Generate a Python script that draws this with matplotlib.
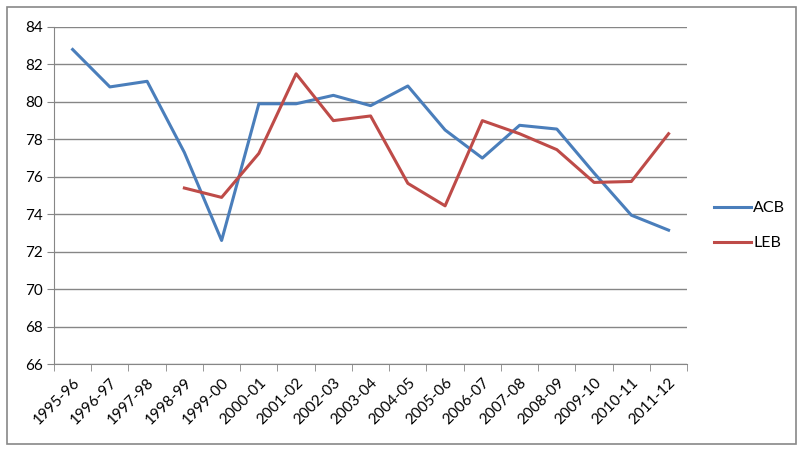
import numpy as np
import matplotlib.pyplot as plt
from matplotlib.patches import Rectangle

plt.rcParams['font.family'] = ['Lato', 'DejaVu Sans']

seasons = ['1995-96', '1996-97', '1997-98', '1998-99', '1999-00', '2000-01',
           '2001-02', '2002-03', '2003-04', '2004-05', '2005-06', '2006-07',
           '2007-08', '2008-09', '2009-10', '2010-11', '2011-12']
acb = [82.8, 80.8, 81.1, 77.3, 72.6, 79.9, 79.9, 80.35, 79.8, 80.85,
       78.5, 77.0, 78.75, 78.55, 76.2, 73.95, 73.15]
leb = [None, None, None, 75.4, 74.9, 77.25, 81.5, 79.0, 79.25, 75.65,
       74.45, 79.0, 78.3, 77.45, 75.7, 75.75, 78.3]

x = np.arange(len(seasons))
leb_arr = np.array([np.nan if v is None else v for v in leb])

fig = plt.figure(figsize=(8, 4.5), dpi=100)
ax = fig.add_axes([0.0675, 0.191, 0.7915, 0.749])

ax.plot(x, acb, color='#4A7EBB', lw=2.2, label='ACB')
ax.plot(x, leb_arr, color='#BE4B48', lw=2.2, label='LEB')

ax.set_ylim(66, 84)
ax.set_yticks(range(66, 85, 2))
ax.set_xlim(-0.5, len(seasons) - 0.5)
ax.set_xticks(x)
ax.set_xticklabels(seasons, rotation=45, ha='right', rotation_mode='anchor')
ax.set_xticks(np.arange(-0.5, len(seasons)), minor=True)
ax.tick_params(axis='x', which='major', length=0, pad=8, labelsize=11)
ax.tick_params(axis='x', which='minor', length=5, color='#868686')
ax.tick_params(axis='y', length=5, color='#868686', labelsize=11, pad=3)

ax.grid(axis='y', color='#868686', lw=1)
ax.set_axisbelow(True)
for s in ['top', 'right']:
    ax.spines[s].set_visible(False)
for s in ['left', 'bottom']:
    ax.spines[s].set_color('#868686')

ax.legend(loc='center left', bbox_to_anchor=(1.02, 0.41), frameon=False,
          fontsize=11.5, handlelength=2.3, handletextpad=0.15, labelspacing=1.3)

fig.patches.append(Rectangle((7 / 800, 6 / 450), 789 / 800, 437 / 450,
                             transform=fig.transFigure, fill=False,
                             edgecolor='#888888', lw=1.2))

fig.savefig('out.png', dpi=100)
